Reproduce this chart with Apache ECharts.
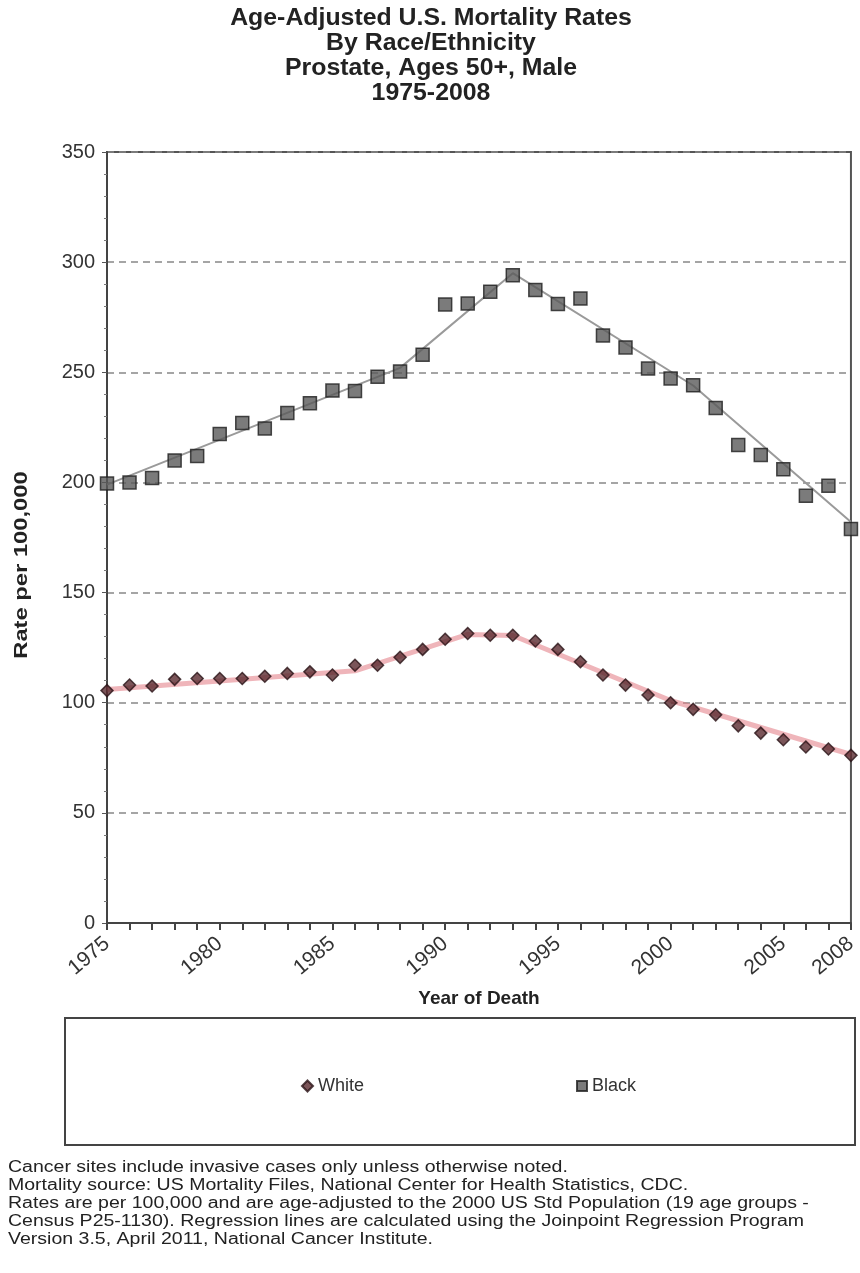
<!DOCTYPE html>
<html>
<head>
<meta charset="utf-8">
<script src="https://cdn.jsdelivr.net/npm/echarts@6/dist/echarts.min.js"></script>
<style>
html,body{margin:0;padding:0;background:#fff;}
#chart{width:860px;height:1273px;}
</style>
</head>
<body>
<div id="chart"></div>
<script>
// ---- data ----
var years = [1975,1976,1977,1978,1979,1980,1981,1982,1983,1984,1985,1986,1987,1988,1989,1990,1991,1992,1993,1994,1995,1996,1997,1998,1999,2000,2001,2002,2003,2004,2005,2006,2007,2008];
var whiteRates = [105.5,108,107.6,110.6,111,111,111,112,113.3,114,112.6,117,117,120.6,124.2,128.8,131.4,130.6,130.6,128,124.2,118.6,112.6,108,103.5,100,97,94.5,89.5,86.2,83.2,79.9,79,76.1];
var blackRates = [199.5,200,202,210,212,222,227,224.5,231.5,236,241.7,241.5,248,250.4,258,280.8,281.2,286.6,294.1,287.4,281,283.5,266.7,261.3,251.7,247.2,244.1,233.8,217,212.5,206,193.9,198.5,178.9];
// joinpoint regression lines
var whiteFitYears = [1975,1986,1991,1993,2000,2008];
var whiteFitRates = [106,114.5,131,130.5,101,76.5];
var blackFitYears = [1975,1988,1993,2001,2008];
var blackFitRates = [199,252,295,244,182];
var yTicks = [0,50,100,150,200,250,300,350];
var titleLines = ['Age-Adjusted U.S. Mortality Rates','By Race/Ethnicity','Prostate, Ages 50+, Male','1975-2008'];
var yAxisTitle = 'Rate per 100,000';
var xAxisTitle = 'Year of Death';
var footLines = [
 'Cancer sites include invasive cases only unless otherwise noted.',
 'Mortality source: US Mortality Files, National Center for Health Statistics, CDC.',
 'Rates are per 100,000 and are age-adjusted to the 2000 US Std Population (19 age groups -',
 'Census P25-1130). Regression lines are calculated using the Joinpoint Regression Program',
 'Version 3.5, April 2011, National Cancer Institute.'
];

function pairs(xs, ys){ return xs.map(function(x,i){ return [x, ys[i]]; }); }

var FONT = '"Liberation Sans", Arial, sans-serif';
var graphics = [];
titleLines.forEach(function(t,i){
  graphics.push({type:'text', x:431, y:19+i*25, scaleX:1.08, originX:0, originY:0,
    style:{text:t, font:'bold 23px '+FONT, fill:'#222', textAlign:'center', textVerticalAlign:'middle'}});
});
graphics.push({type:'text', x:22, y:565, rotation:Math.PI/2, scaleX:1.25, originX:0, originY:0,
  style:{text:yAxisTitle, font:'bold 19px '+FONT, fill:'#222', textAlign:'center', textVerticalAlign:'middle'}});
footLines.forEach(function(t,i){
  graphics.push({type:'text', x:8, y:1168+i*18, scaleX:1.22, originX:0, originY:0,
    style:{text:t, font:'16px '+FONT, fill:'#222', textAlign:'left', textVerticalAlign:'middle'}});
});
graphics.push({type:'rect', shape:{x:65,y:1018,width:790,height:127},
  style:{fill:null, stroke:'#444', lineWidth:2}});

var chart = echarts.init(document.getElementById('chart'), null, {renderer:'canvas'});
chart.setOption({
  backgroundColor:'#fff',
  animation:false,
  graphic: graphics,
  grid:{left:107, right:6, top:152, bottom:350, show:true, borderColor:'#555', borderWidth:2, backgroundColor:'transparent'},
  legend:[
    {data:[{name:'White', icon:'diamond'}], left:296, top:1072, itemWidth:11, itemHeight:11, itemGap:0,
     textStyle:{fontSize:18, color:'#333', fontFamily:FONT}},
    {data:[{name:'Black', icon:'rect'}], left:571, top:1072, itemWidth:10, itemHeight:10,
     textStyle:{fontSize:18, color:'#333', fontFamily:FONT}}
  ],
  xAxis:{type:'value', min:1975, max:2008, interval:1,
    name:xAxisTitle, nameLocation:'middle', nameGap:66,
    nameTextStyle:{fontSize:19, fontWeight:'bold', color:'#222', fontFamily:FONT},
    axisLine:{lineStyle:{color:'#444', width:2}},
    axisTick:{show:true, length:7, lineStyle:{color:'#444', width:2}},
    axisLabel:{rotate:40, fontSize:21, color:'#333', fontFamily:FONT, margin:18,
      formatter:function(v){ return (v%5===0 || v===2008) ? String(v) : ''; }},
    splitLine:{show:false}},
  yAxis:{type:'value', min:0, max:350, interval:50,
    axisLine:{show:true, lineStyle:{color:'#444', width:2}},
    axisTick:{show:true, length:5, lineStyle:{color:'#555'}},
    minorTick:{show:true, splitNumber:5, length:3, lineStyle:{color:'#777'}},
    axisLabel:{fontSize:20, color:'#333', fontFamily:FONT, margin:12,
      formatter:function(v){ return yTicks.indexOf(v)>=0 ? String(v) : ''; }},
    splitLine:{show:true, lineStyle:{color:'#888', width:1.5, type:[7,5]}}},
  series:[
    {name:'WhiteFit', type:'line', data:pairs(whiteFitYears, whiteFitRates), symbol:'none',
     lineStyle:{color:'rgba(225,120,130,0.55)', width:5}, z:2, silent:true},
    {name:'BlackFit', type:'line', data:pairs(blackFitYears, blackFitRates), symbol:'none',
     lineStyle:{color:'#9a9a9a', width:2}, z:2, silent:true},
    {name:'White', type:'scatter', data:pairs(years, whiteRates), symbol:'diamond', symbolSize:12,
     itemStyle:{color:'#5a2a30', borderColor:'#2a1418', borderWidth:1.5}, z:3},
    {name:'Black', type:'scatter', data:pairs(years, blackRates), symbol:'rect', symbolSize:13,
     itemStyle:{color:'#5a5a5a', borderColor:'#1e1e1e', borderWidth:1.5}, z:3}
  ]
});
</script>
</body>
</html>
